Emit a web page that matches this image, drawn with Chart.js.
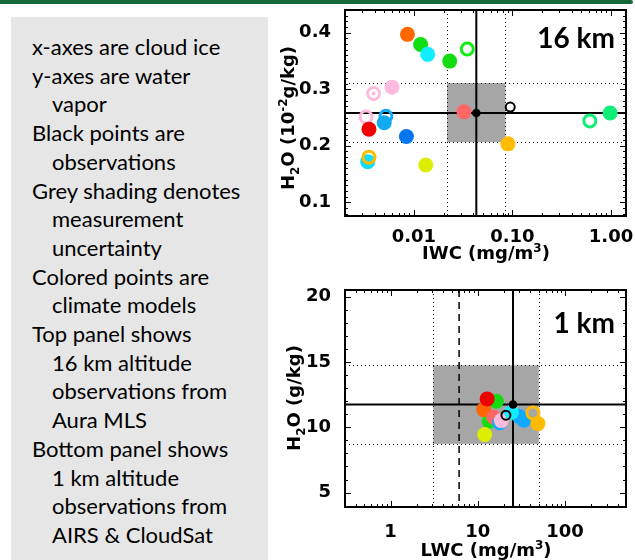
<!DOCTYPE html>
<html>
<head>
<meta charset="utf-8">
<title>Cloud ice and water vapor: models vs observations</title>
<script src="https://cdn.jsdelivr.net/npm/chart.js@4.4.1/dist/chart.umd.min.js"></script>
<style>
body { margin:0; background:#fff; width:635px; height:560px; overflow:hidden; position:relative; }
#bar { position:absolute; left:0; top:0; width:633px; height:4px; background:#17693a; border-radius:0 2px 2px 0; }
#notes { position:absolute; left:11px; top:17px; width:257px; height:543px; background:#e6e6e6;
         box-sizing:border-box; padding:16px 0 0 21px; font-family:Lato, sans-serif; font-size:22px; line-height:28.7px; color:#000; }
#notes div { white-space:nowrap; }
#notes .in { padding-left:20px; }
canvas { position:absolute; left:270px; }
#c1 { top:0; }
#c2 { top:280px; }
.title { position:absolute; font-family:"DejaVu Sans", sans-serif; font-weight:bold; font-size:18px; line-height:18px; white-space:nowrap; color:#000; }
.title sub, .title sup { font-size:12px; line-height:0; }
.rot { transform:translate(-50%,-50%) rotate(-90deg); }
.hor { transform:translateX(-50%); }
.alt { position:absolute; right:20px; font-family:Lato, sans-serif; font-weight:bold; font-size:28px; line-height:28px; color:#000; }
</style>
</head>
<body>
<div id="bar"></div>
<div id="notes">
  <div>x-axes are cloud ice</div>
  <div>y-axes are water</div>
  <div class="in">vapor</div>
  <div>Black points are</div>
  <div class="in">observations</div>
  <div>Grey shading denotes</div>
  <div class="in">measurement</div>
  <div class="in">uncertainty</div>
  <div>Colored points are</div>
  <div class="in">climate models</div>
  <div>Top panel shows</div>
  <div class="in">16 km altitude</div>
  <div class="in">observations from</div>
  <div class="in">Aura MLS</div>
  <div>Bottom panel shows</div>
  <div class="in">1 km altitude</div>
  <div class="in">observations from</div>
  <div class="in">AIRS &amp; CloudSat</div>
</div>

<canvas id="c1" width="365" height="280"></canvas>
<canvas id="c2" width="365" height="280"></canvas>

<div class="title rot" style="left:288px; top:118px;">H<sub>2</sub>O (10<sup>-2</sup>g/kg)</div>
<div class="title hor" style="left:486px; top:244px;">IWC (mg/m<sup>3</sup>)</div>
<div class="title rot" style="left:294px; top:398px;">H<sub>2</sub>O (g/kg)</div>
<div class="title hor" style="left:486px; top:541px;">LWC (mg/m<sup>3</sup>)</div>
<div class="alt" style="top:23px;">16 km</div>
<div class="alt" style="top:308px;">1 km</div>

<script>
// ---- top panel: 16 km, cloud ice (IWC) vs water vapor ----
const topIwc   = [0.0086, 0.0117, 0.0138, 0.0231, 0.0348, 0.0060, 0.0039, 0.00327, 0.0052, 0.0050, 0.0035, 0.0084, 0.0034, 0.0035, 0.0132, 0.0322, 0.090, 0.61, 0.98];
const topH2o   = [0.397, 0.379, 0.3616, 0.3497, 0.371, 0.3037, 0.2925, 0.251, 0.2522, 0.2407, 0.2295, 0.2165, 0.172, 0.180, 0.166, 0.260, 0.2035, 0.244, 0.258];
const topColor = ['#ff6600', '#11dd11', '#11eeff', '#11dd11', '#11ee11', '#ffbbdd', '#ffbbdd', '#ffbbdd', '#11aaff', '#11aaee', '#ee0000', '#0077ee', '#11ddff', '#ffbb00', '#ddee00', '#ff6666', '#ffbb00', '#11ee77', '#11ee77'];
const topKind  = ['fill', 'fill', 'fill', 'fill', 'ring', 'fill', 'dot', 'ring', 'ring', 'fill', 'fill', 'fill', 'fill', 'ring', 'fill', 'fill', 'fill', 'ring', 'fill'];
const topObs      = [0.043, 0.258];    // black dot
const topObsOpen  = [0.095, 0.2685];   // black ring
const topIwcRange = [0.0217, 0.085];
const topH2oRange = [0.2065, 0.311];
const topXTicks = [0.01, 0.1, 1];
const topYTicks = [0.1, 0.2, 0.3, 0.4];

// ---- bottom panel: 1 km, liquid water (LWC) vs water vapor ----
const botLwc   = [16.3, 13.5, 11.7, 12.8, 33.6, 29.6, 15.2, 17.8, 18.6, 24.3, 42.9, 48.9, 12.0];
const botH2o   = [11.99, 10.46, 11.35, 12.17, 10.54, 10.84, 10.77, 10.35, 10.51, 11.15, 11.1, 10.28, 9.44];
const botColor = ['#11dd11', '#11dd11', '#ff6600', '#ee0000', '#11aaff', '#11aaff', '#ff6666', '#11aaff', '#ffbbdd', '#11eeff', '#ffbb00', '#ffbb00', '#ddee00'];
const botKind  = ['fill', 'fill', 'fill', 'fill', 'fill', 'fill', 'fill', 'ring', 'fill', 'fill', 'ring', 'fill', 'fill'];
const botObs      = [25.3, 11.74];
const botObsOpen  = [21, 10.92];
const botLwcRange = [3.08, 50];
const botH2oRange = [8.73, 14.74];
const botDashed   = 6.1;
const botXTicks = [1, 10, 100];
const botYTicks = [5, 10, 15, 20];

function logMarks(min, max) {
  const out = [];
  for (let e = Math.floor(Math.log10(min)); e <= Math.ceil(Math.log10(max)); e++) {
    for (let k = 1; k <= 9; k++) {
      const v = k * Math.pow(10, e);
      if (v >= min * 0.9999 && v <= max * 1.0001) out.push({ v: v, major: k === 1 });
    }
  }
  return out;
}
function linMarks(min, max, minor, major) {
  const out = [];
  for (let i = Math.ceil(min / minor - 1e-9); i * minor <= max + 1e-9; i++) {
    const v = i * minor;
    out.push({ v: v, major: Math.abs(v / major - Math.round(v / major)) < 1e-6 });
  }
  return out;
}

function line(ctx, x0, y0, x1, y1) {
  ctx.beginPath(); ctx.moveTo(x0, y0); ctx.lineTo(x1, y1); ctx.stroke();
}

const panelPlugin = {
  id: 'panel',
  beforeDatasetsDraw(chart, args, o) {
    const ctx = chart.ctx, a = chart.chartArea, x = chart.scales.x, y = chart.scales.y;
    ctx.save();
    ctx.beginPath(); ctx.rect(a.left, a.top, a.width, a.height); ctx.clip();
    const xl = x.getPixelForValue(o.xRange[0]), xr = x.getPixelForValue(o.xRange[1]);
    const yb = y.getPixelForValue(o.yRange[0]), yt = y.getPixelForValue(o.yRange[1]);
    ctx.fillStyle = '#a6a6a6';
    ctx.fillRect(xl, yt, xr - xl, yb - yt);
    ctx.strokeStyle = '#000';
    ctx.lineWidth = 1;
    ctx.setLineDash([1, 3]);
    o.xRange.forEach(v => { const p = Math.round(x.getPixelForValue(v)) + 0.5; line(ctx, p, a.top, p, a.bottom); });
    o.yRange.forEach(v => { const p = Math.round(y.getPixelForValue(v)) + 0.5; line(ctx, a.left, p, a.right, p); });
    if (o.dashed) {
      ctx.lineWidth = 1.5;
      ctx.setLineDash([7, 5]);
      const p = x.getPixelForValue(o.dashed);
      line(ctx, p, a.top, p, a.bottom);
    }
    ctx.setLineDash([]);
    ctx.lineWidth = 2;
    const px = x.getPixelForValue(o.obs[0]), py = y.getPixelForValue(o.obs[1]);
    line(ctx, px, a.top, px, a.bottom);
    line(ctx, a.left, py, a.right, py);
    ctx.restore();
  },
  afterDraw(chart, args, o) {
    const ctx = chart.ctx, a = chart.chartArea, x = chart.scales.x, y = chart.scales.y;
    ctx.save();
    ctx.strokeStyle = '#000';
    ctx.lineWidth = 1;
    o.xMarks.forEach(m => {
      const p = Math.round(x.getPixelForValue(m.v)) + 0.5, len = m.major ? 6 : 3;
      line(ctx, p, a.bottom, p, a.bottom - len);
      line(ctx, p, a.top, p, a.top + len);
    });
    o.yMarks.forEach(m => {
      const p = Math.round(y.getPixelForValue(m.v)) + 0.5, len = m.major ? 6 : 3;
      line(ctx, a.left, p, a.left + len, p);
      line(ctx, a.right, p, a.right - len, p);
    });
    ctx.lineWidth = 2;
    ctx.strokeRect(a.left, a.top, a.width, a.height);
    ctx.restore();
  }
};

function makePanel(id, p) {
  const pts = p.xs.map((v, i) => ({ x: v, y: p.ys[i] }));
  const dots = pts.filter((d, i) => p.kind[i] === 'dot');
  const dotColors = p.colors.filter((c, i) => p.kind[i] === 'dot');
  const font = { family: 'DejaVu Sans', weight: 'bold', size: 18 };
  return new Chart(document.getElementById(id).getContext('2d'), {
    type: 'scatter',
    data: {
      datasets: [
        { data: [{ x: p.obs[0], y: p.obs[1] }], order: 0, pointRadius: 4.3, pointBorderWidth: 0, pointBackgroundColor: '#000' },
        { data: [{ x: p.obsOpen[0], y: p.obsOpen[1] }], order: 1, pointRadius: 4.5, pointBorderWidth: 2,
          pointBackgroundColor: 'rgba(0,0,0,0)', pointBorderColor: '#000' },
        { data: dots, order: 2, pointRadius: 2, pointBorderWidth: 0, pointBackgroundColor: dotColors },
        { data: pts, order: 3,
          pointRadius: c => p.kind[c.dataIndex] === 'fill' ? 7.5 : 6,
          pointBorderWidth: c => p.kind[c.dataIndex] === 'fill' ? 0 : 3,
          pointBackgroundColor: c => p.kind[c.dataIndex] === 'fill' ? p.colors[c.dataIndex] : 'rgba(0,0,0,0)',
          pointBorderColor: c => p.colors[c.dataIndex] }
      ]
    },
    options: {
      responsive: false,
      animation: false,
      events: [],
      layout: { padding: { top: 10, right: 8, left: 0, bottom: 0 } },
      plugins: {
        legend: { display: false },
        tooltip: { enabled: false },
        panel: { xRange: p.xRange, yRange: p.yRange, obs: p.obs, dashed: p.dashed,
                 xMarks: p.xMarks, yMarks: p.yMarks }
      },
      scales: {
        x: {
          type: 'logarithmic', min: p.xMin, max: p.xMax, bounds: 'data',
          grid: { display: false }, border: { display: false },
          afterBuildTicks: s => { s.ticks = p.xTicks.map(v => ({ value: v })); },
          afterFit: s => { s.height = p.xHeight; s.paddingLeft = 0; s.paddingRight = 0; },
          ticks: { font: font, color: '#000', padding: p.xPad, maxRotation: 0, autoSkip: false, callback: p.xLabel }
        },
        y: {
          type: 'linear', min: p.yMin, max: p.yMax, bounds: 'data',
          grid: { display: false }, border: { display: false },
          afterBuildTicks: s => { s.ticks = p.yTicks.map(v => ({ value: v })); },
          afterFit: s => { s.width = 75; s.paddingTop = 0; s.paddingBottom = 0; },
          ticks: { font: font, color: '#000', padding: 6, autoSkip: false, callback: p.yLabel }
        }
      }
    },
    plugins: [panelPlugin]
  });
}

makePanel('c1', {
  xs: topIwc, ys: topH2o, colors: topColor, kind: topKind,
  obs: topObs, obsOpen: topObsOpen, xRange: topIwcRange, yRange: topH2oRange,
  xMin: 0.002, xMax: 1.42, yMin: 0.076, yMax: 0.44, xHeight: 64, xPad: 3,
  xTicks: topXTicks, yTicks: topYTicks,
  xMarks: logMarks(0.002, 1.42), yMarks: linMarks(0.076, 0.44, 0.01, 0.1),
  xLabel: v => Number(v).toFixed(2), yLabel: v => Number(v).toFixed(1)
});

makePanel('c2', {
  xs: botLwc, ys: botH2o, colors: botColor, kind: botKind,
  obs: botObs, obsOpen: botObsOpen, xRange: botLwcRange, yRange: botH2oRange, dashed: botDashed,
  xMin: 0.3, xMax: 500, yMin: 3.9, yMax: 20.5, xHeight: 53, xPad: 7,
  xTicks: botXTicks, yTicks: botYTicks,
  xMarks: logMarks(0.3, 500), yMarks: linMarks(3.9, 20.5, 1, 5),
  xLabel: v => String(Number(v)), yLabel: v => String(Number(v))
});
</script>
</body>
</html>
